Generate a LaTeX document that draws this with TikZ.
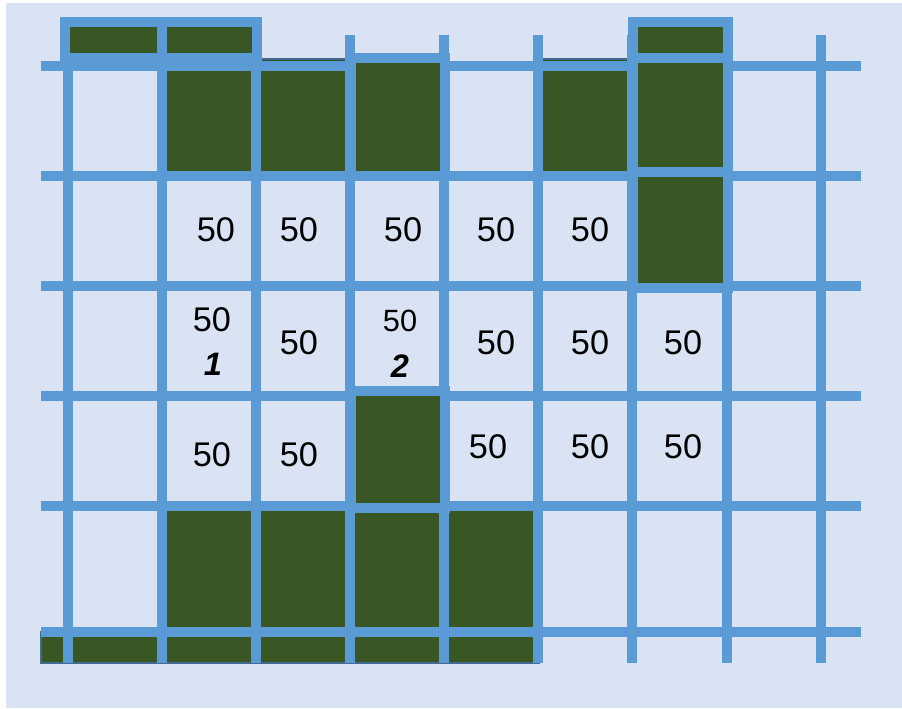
\documentclass[tikz,border=0pt]{standalone}
\usepackage{fontspec}
\setmainfont{Liberation Sans}
\definecolor{GridBlue}{RGB}{91,155,213}
\definecolor{CellGreen}{RGB}{56,87,36}
\definecolor{CellEdge}{RGB}{66,106,145}
\definecolor{PaperBlue}{RGB}{218,227,243}

\begin{document}
\begin{tikzpicture}[x=0.02cm,y=-0.02cm,
        gridline/.style={draw=GridBlue,line width=0.2cm},
        cell/.style={fill=CellGreen,draw=CellEdge,line width=0.04cm},
        boxcell/.style={fill=CellGreen,draw=GridBlue,line width=0.2cm},
        num/.style={font=\fontsize{19.5}{22}\selectfont,inner sep=0pt},
        smallnum/.style={font=\fontsize{17.5}{20}\selectfont,inner sep=0pt},
        tag/.style={font=\fontsize{18.5}{21}\selectfont\bfseries\itshape,inner sep=0pt}
      ]
        \useasboundingbox (0,0) rectangle (902,708);
        \fill[PaperBlue] (6,3) rectangle (902,708);
        % green cells lying under the grid
        \draw[cell] (162,59) rectangle (256,176);
        \draw[cell] (256,59) rectangle (350,176);
        \draw[cell] (538,59) rectangle (632,176);
        \draw[cell] (162,506) rectangle (256,632);
        \draw[cell] (256,506) rectangle (350,632);
        \draw[cell] (350,506) rectangle (444,632);
        \draw[cell] (444,506) rectangle (538,632);
        \draw[cell] (41,632) rectangle (539,663);
        % grid
        \draw[gridline] (68,35) -- (68,663);
        \draw[gridline] (162,35) -- (162,663);
        \draw[gridline] (256,35) -- (256,663);
        \draw[gridline] (350,35) -- (350,663);
        \draw[gridline] (444,35) -- (444,663);
        \draw[gridline] (538,35) -- (538,663);
        \draw[gridline] (632,35) -- (632,663);
        \draw[gridline] (727,35) -- (727,663);
        \draw[gridline] (821,35) -- (821,663);
        \draw[gridline] (41,66) -- (861,66);
        \draw[gridline] (41,176) -- (861,176);
        \draw[gridline] (41,286) -- (861,286);
        \draw[gridline] (41,396) -- (861,396);
        \draw[gridline] (41,506) -- (861,506);
        \draw[gridline] (41,632) -- (861,632);
        % green cells with their own frame
        \draw[boxcell] (65,22) rectangle (162,58);
        \draw[boxcell] (162,22) rectangle (257,58);
        \draw[boxcell] (351,58) rectangle (445,176);
        \draw[boxcell] (633,22) rectangle (728,58);
        \draw[boxcell] (633,58) rectangle (728,172);
        \draw[boxcell] (633,172) rectangle (728,288);
        \draw[boxcell] (351,391) rectangle (445,508);
        % values
        \node[num] (v22) at (216,230) {50};
        \node[num] (v23) at (299,230) {50};
        \node[num] (v24) at (403,230) {50};
        \node[num] (v25) at (496,230) {50};
        \node[num] (v26) at (590,230) {50};
        \node[num] (v32) at (212,320) {50};
        \node[tag] (t1) at (213,364) {1};
        \node[num] (v33) at (299,343) {50};
        \node[smallnum] (v34) at (400,321) {50};
        \node[tag] (t2) at (400,366) {2};
        \node[num] (v35) at (496,343) {50};
        \node[num] (v36) at (590,343) {50};
        \node[num] (v37) at (683,343) {50};
        \node[num] (v42) at (212,455) {50};
        \node[num] (v43) at (299,455) {50};
        \node[num] (v45) at (488,447) {50};
        \node[num] (v46) at (590,447) {50};
        \node[num] (v47) at (683,447) {50};
      \end{tikzpicture}
\end{document}
